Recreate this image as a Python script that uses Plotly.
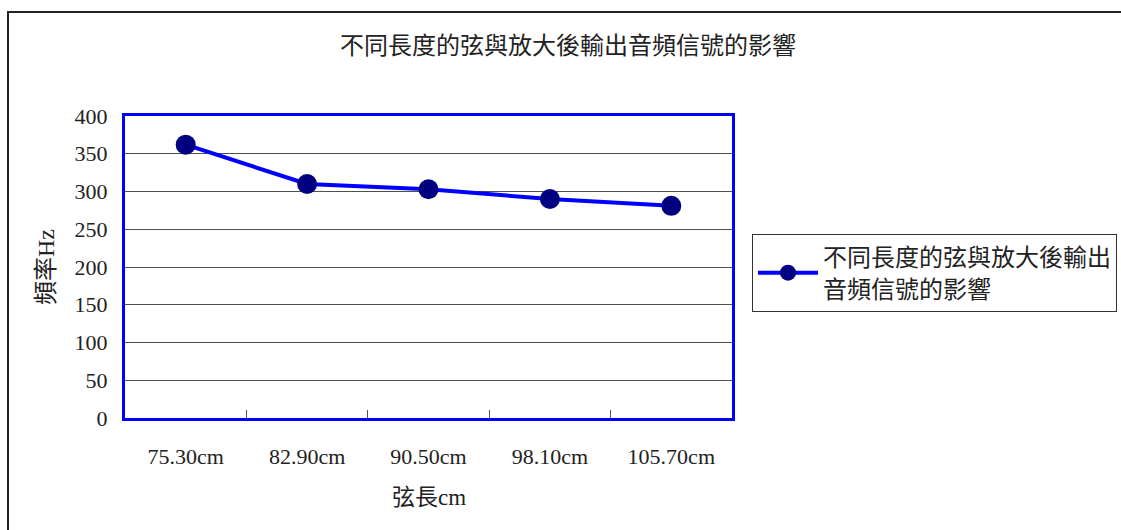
import plotly.graph_objects as go

# String length categories and measured output frequency
lengths = ["75.30cm", "82.90cm", "90.50cm", "98.10cm", "105.70cm"]
freq_hz = [362, 310, 303, 290, 281]

series_name = "不同長度的弦與放大後輸出<br>音頻信號的影響"
chart_title = "不同長度的弦與放大後輸出音頻信號的影響"
x_title = "弦長cm"
y_title = "頻率Hz"

FONT = "Liberation Serif, 'Noto Sans CJK TC', serif"
W, H = 1121, 530
L, R, T, B = 125, 389, 116, 112
PW, PH = W - L - R, H - T - B


def px_x(p):
    return (p - L) / PW


def px_y(p):
    return (H - B - p) / PH


fig = go.Figure()
fig.add_trace(go.Scatter(
    x=lengths,
    y=freq_hz,
    mode="lines+markers",
    name=series_name,
    line=dict(color="#0000FF", width=4),
    marker=dict(color="#000080", size=20, line=dict(width=0)),
))

fig.update_layout(
    width=W,
    height=H,
    margin=dict(l=L, r=R, t=T, b=B, pad=0, autoexpand=False),
    paper_bgcolor="white",
    plot_bgcolor="white",
    font=dict(family=FONT, size=22, color="#222222"),
    title=dict(
        text=chart_title,
        x=568 / W, xref="container", xanchor="center",
        y=1 - 46 / H, yref="container", yanchor="middle",
        font=dict(family=FONT, size=24, color="#222222"),
    ),
    showlegend=True,
    legend=dict(
        x=px_x(752), y=px_y(234), xanchor="left", yanchor="top",
        xref="paper", yref="paper",
        bordercolor="#333333", borderwidth=1,
        bgcolor="white",
        itemwidth=60,
        font=dict(family=FONT, size=24, color="#222222"),
        tracegroupgap=0,
    ),
    xaxis=dict(
        type="category",
        range=[-0.5, len(lengths) - 0.5],
        showline=True, linecolor="#0000FF", linewidth=3, mirror=True,
        showgrid=False,
        ticks="inside", tickson="boundaries", ticklen=8,
        tickcolor="#555555", tickwidth=1,
        ticklabelstandoff=17,
        zeroline=False,
    ),
    yaxis=dict(
        range=[0, 400], dtick=50, tick0=0,
        showline=True, linecolor="#0000FF", linewidth=3, mirror=True,
        showgrid=True, gridcolor="#505050", gridwidth=1,
        ticks="", ticklabelstandoff=10,
        zeroline=False,
    ),
    shapes=[
        dict(type="rect", xref="paper", yref="paper",
             x0=px_x(8), x1=px_x(1130), y0=px_y(540), y1=px_y(12),
             line=dict(color="#222222", width=2), fillcolor="rgba(0,0,0,0)",
             layer="below"),
    ],
    annotations=[
        dict(text=x_title, xref="paper", yref="paper",
             x=0.5, y=px_y(497), xanchor="center", yanchor="middle",
             showarrow=False, font=dict(family=FONT, size=23, color="#222222")),
        dict(text=y_title, xref="paper", yref="paper",
             x=px_x(46), y=0.5, xanchor="center", yanchor="middle",
             textangle=-90,
             showarrow=False, font=dict(family=FONT, size=24, color="#222222")),
    ],
)

fig.write_html("out.html")
